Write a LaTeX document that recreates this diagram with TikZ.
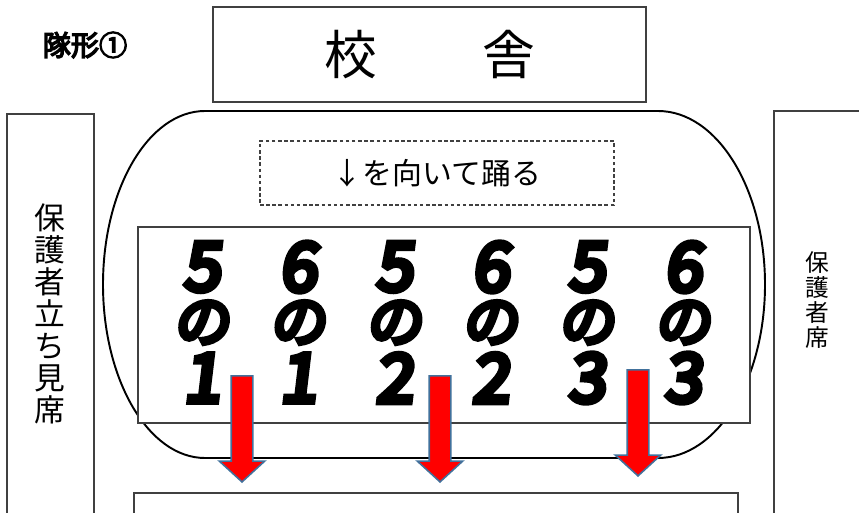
\documentclass[tikz,border=0pt]{standalone}
\usepackage{fontspec}
\setmainfont{Noto Sans CJK JP}
\newfontfamily\boldjp[FakeBold=5]{Noto Sans CJK JP}
\newfontfamily\popjp[FakeBold=9,FakeSlant=0.12]{Noto Sans CJK JP}
\usetikzlibrary{shapes.arrows}
\definecolor{boxgray}{HTML}{404040}
\definecolor{arrowedge}{HTML}{41719C}

\tikzset{
  box/.style={draw=boxgray,line width=0.6pt,rectangle,inner sep=0pt},
  stage/.style={draw=black,line width=1.1pt},
  downarrow/.style={single arrow,rotate=-90,anchor=tip,fill=red,draw=arrowedge,
    line width=0.9pt,inner xsep=0pt,inner ysep=0.2cm,minimum height=2.12cm,
    minimum width=1pt,single arrow head extend=0.24cm,single arrow tip angle=95},
  classtxt/.style={font=\popjp\fontsize{38}{38}\selectfont,inner sep=0pt}
}

\begin{document}
\begin{tikzpicture}[x=1cm,y=-1cm]
    \useasboundingbox (0,0) rectangle (17.18,10.26);
    \node[font=\boldjp\fontsize{16}{16}\selectfont] (title) at (1.70,0.90) {隊形①};
    \node[box,minimum width=8.66cm,minimum height=1.90cm,font=\fontsize{30}{30}\selectfont] (school) at (8.59,1.09) {校　　舎};
    \node[box,minimum width=1.74cm,minimum height=8.02cm] (leftbox) at (1.01,6.29) {};
    \node[font=\fontsize{17.5}{18.2}\selectfont,align=center,inner sep=0pt] (leftlbl) at (1.00,6.28) {保\\護\\者\\立\\ち\\見\\席};
    \node[box,minimum width=1.72cm,minimum height=8.08cm] (rightbox) at (16.34,6.26) {};
    \node[font=\fontsize{13.5}{14.2}\selectfont,align=center,inner sep=0pt] (rightlbl) at (16.34,6.00) {保\\護\\者\\席};
    \draw[stage] (4.10,2.22) -- (13.16,2.22)
        arc[start angle=-90,end angle=90,x radius=2.14,y radius=3.47]
        -- (4.10,9.16)
        arc[start angle=90,end angle=270,x radius=2.04,y radius=3.47] -- cycle;
    \node[box,dash pattern=on 2pt off 1.5pt,minimum width=7.08cm,minimum height=1.28cm,font=\fontsize{17}{17}\selectfont] (facing) at (8.74,3.46) {↓を向いて踊る};
    \node[box,fill=white,minimum width=12.24cm,minimum height=3.92cm] (classes) at (8.88,6.50) {};
    \foreach \g/\c [count=\i] in {5/1,6/1,5/2,6/2,5/3,6/3}{
        \pgfmathsetmacro\cx{4.04+1.925*(\i-1)}
        \node[classtxt] (grade\i) at (\cx,5.34) {\g};
        \node[classtxt,font=\popjp\fontsize{32}{32}\selectfont] (no\i) at (\cx,6.45) {の};
        \node[classtxt] (class\i) at (\cx,7.56) {\c};
    }
    \node[box,minimum width=12.08cm,minimum height=0.54cm] (front) at (8.72,10.13) {};
    \node[downarrow] (arrowA) at (4.84,9.66) {};
    \node[downarrow] (arrowB) at (8.80,9.66) {};
    \node[downarrow] (arrowC) at (12.76,9.54) {};
\end{tikzpicture}
\end{document}
